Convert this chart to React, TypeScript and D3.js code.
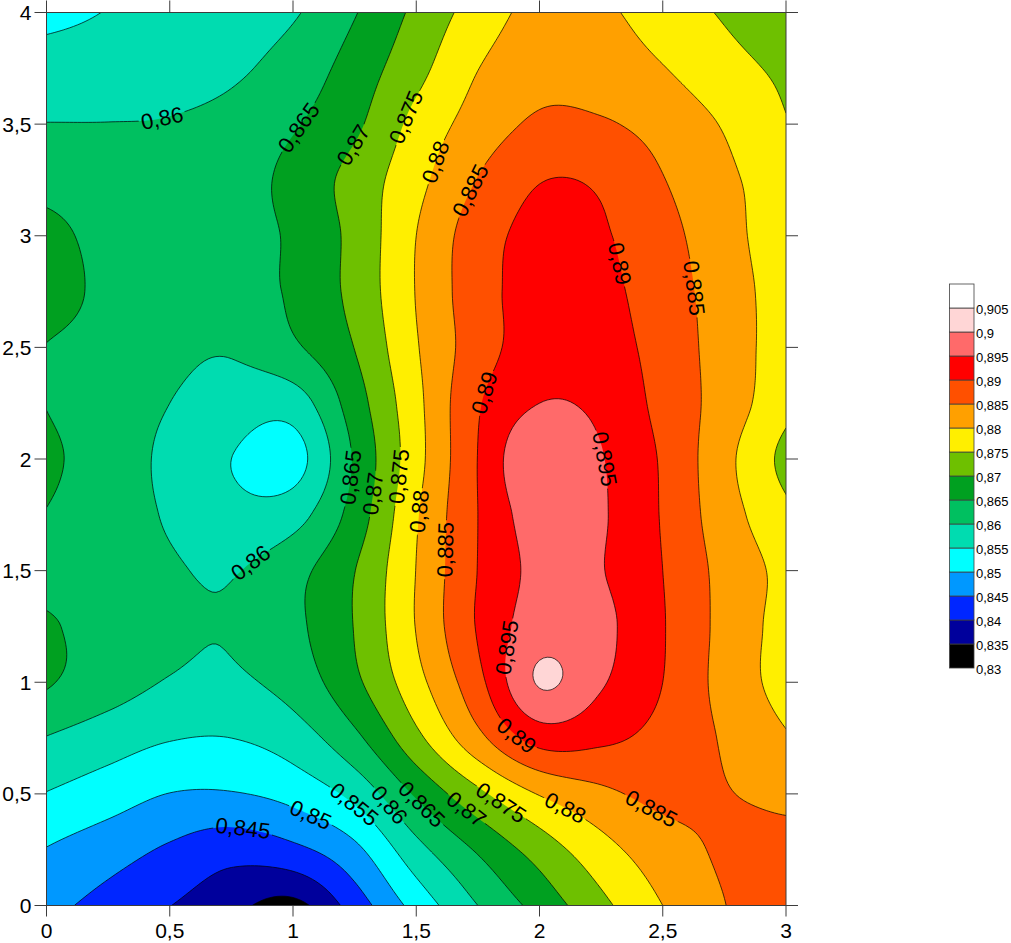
import * as d3 from "d3";
import { useMemo } from "react";

// grid nodes (x: 0..3, y: 0..4, step 0.25), rows listed from y = 0 upwards
const xNodes = [0, 0.25, 0.5, 0.75, 1, 1.25, 1.5, 1.75, 2, 2.25, 2.5, 2.75, 3];
const yNodes = [0, 0.25, 0.5, 0.75, 1, 1.25, 1.5, 1.75, 2, 2.25, 2.5, 2.75, 3, 3.25, 3.5, 3.75, 4];
const zGrid = [
	[0.8465, 0.8432, 0.8401, 0.8365, 0.8335, 0.8423, 0.8518, 0.86, 0.8668, 0.8737, 0.88, 0.8849, 0.8872],
	[0.8498, 0.8472, 0.8443, 0.8419, 0.8438, 0.8488, 0.8583, 0.8656, 0.8722, 0.8782, 0.8828, 0.8856, 0.8862],
	[0.8548, 0.8524, 0.8499, 0.8497, 0.8517, 0.8565, 0.8657, 0.8738, 0.8803, 0.8839, 0.8862, 0.8852, 0.884],
	[0.8598, 0.8574, 0.8553, 0.855, 0.8575, 0.8638, 0.8737, 0.8836, 0.892, 0.891, 0.8884, 0.8845, 0.8805],
	[0.8655, 0.8622, 0.8597, 0.8592, 0.862, 0.8689, 0.8783, 0.8885, 0.9004, 0.8955, 0.89, 0.8833, 0.878],
	[0.8657, 0.8628, 0.8608, 0.8603, 0.8638, 0.8702, 0.8802, 0.8904, 0.8975, 0.8962, 0.8903, 0.8835, 0.878],
	[0.863, 0.8625, 0.8605, 0.8597, 0.8633, 0.8699, 0.8801, 0.8901, 0.8962, 0.8952, 0.89, 0.8834, 0.8785],
	[0.8648, 0.8622, 0.8595, 0.8565, 0.858, 0.8671, 0.8795, 0.89, 0.8975, 0.8955, 0.8896, 0.8822, 0.8762],
	[0.866, 0.8625, 0.8589, 0.855, 0.853, 0.8656, 0.8782, 0.8901, 0.8998, 0.8953, 0.8894, 0.8815, 0.8735],
	[0.8649, 0.8625, 0.86, 0.8578, 0.8575, 0.8676, 0.8786, 0.8895, 0.895, 0.8938, 0.8885, 0.8828, 0.8765],
	[0.8649, 0.8635, 0.8612, 0.8605, 0.8642, 0.8701, 0.8796, 0.8876, 0.8925, 0.892, 0.8881, 0.8827, 0.8775],
	[0.8668, 0.864, 0.862, 0.8625, 0.8658, 0.8715, 0.8802, 0.8879, 0.892, 0.8912, 0.8875, 0.8825, 0.8775],
	[0.8665, 0.8635, 0.8625, 0.863, 0.8658, 0.8715, 0.88, 0.8876, 0.8915, 0.8905, 0.8867, 0.8818, 0.877],
	[0.8632, 0.8625, 0.862, 0.8625, 0.8666, 0.8718, 0.8785, 0.8852, 0.8898, 0.8893, 0.8852, 0.881, 0.8775],
	[0.8601, 0.8601, 0.8603, 0.8615, 0.8645, 0.869, 0.8765, 0.8821, 0.8858, 0.8855, 0.8832, 0.8796, 0.8753],
	[0.8572, 0.8574, 0.858, 0.8592, 0.862, 0.8671, 0.8734, 0.8799, 0.8832, 0.8825, 0.8802, 0.8767, 0.874],
	[0.8535, 0.8552, 0.857, 0.858, 0.8595, 0.8647, 0.8711, 0.8772, 0.8815, 0.8808, 0.8777, 0.8745, 0.872],
];

const levels = [0.83, 0.835, 0.84, 0.845, 0.85, 0.855, 0.86, 0.865, 0.87, 0.875, 0.88, 0.885, 0.89, 0.895, 0.9, 0.905];
const levelColors = [
	"#000000", "#00009c", "#0026ff", "#0098ff", "#00ffff", "#00dcb0", "#00c060", "#00a020",
	"#6ec000", "#ffef00", "#ffa000", "#ff5000", "#ff0000", "#ff6a6a", "#ffd6d6", "#ffffff",
];
const xTickValues = [0, 0.5, 1, 1.5, 2, 2.5, 3];
const yTickValues = [0, 0.5, 1, 1.5, 2, 2.5, 3, 3.5, 4];

// contour label anchors: [level, x, y]
const contourLabels: [number, number, number][] = [
	[0.86, 0.47, 3.53],
	[0.865, 1.02, 3.48],
	[0.87, 1.23, 3.42],
	[0.875, 1.465, 3.53],
	[0.88, 1.58, 3.33],
	[0.885, 1.73, 3.2],
	[0.89, 2.36, 2.88],
	[0.885, 2.63, 2.77],
	[0.89, 1.79, 2.29],
	[0.895, 2.26, 2.0],
	[0.865, 1.23, 1.92],
	[0.87, 1.33, 1.85],
	[0.875, 1.43, 1.92],
	[0.88, 1.52, 1.77],
	[0.885, 1.62, 1.6],
	[0.86, 0.84, 1.53],
	[0.895, 1.88, 1.15],
	[0.89, 1.935, 0.79],
	[0.885, 2.46, 0.44],
	[0.88, 2.09, 0.41],
	[0.875, 1.84, 0.45],
	[0.87, 1.7, 0.43],
	[0.865, 1.525, 0.46],
	[0.86, 1.39, 0.45],
	[0.855, 1.23, 0.44],
	[0.85, 1.07, 0.41],
	[0.845, 0.79, 0.34],
];

const fmt = (v: number) => String(+v.toFixed(3)).replace(".", ",");
const FONT = "'Liberation Sans', Arial, sans-serif";

const F = 16; // upsampling factor for the contouring grid

function node(i: number, j: number): number {
	const ni = xNodes.length;
	const nj = yNodes.length;
	if (i < 0) return 2 * node(0, j) - node(1, j);
	if (i >= ni) return 2 * node(ni - 1, j) - node(ni - 2, j);
	if (j < 0) return 2 * node(i, 0) - node(i, 1);
	if (j >= nj) return 2 * node(i, nj - 1) - node(i, nj - 2);
	return zGrid[j][i];
}

function catmull(p0: number, p1: number, p2: number, p3: number, t: number) {
	return (
		0.5 *
		(2 * p1 +
			(-p0 + p2) * t +
			(2 * p0 - 5 * p1 + 4 * p2 - p3) * t * t +
			(-p0 + 3 * p1 - 3 * p2 + p3) * t * t * t)
	);
}

function sample(u: number, v: number) {
	const i = Math.min(Math.floor(u), xNodes.length - 2);
	const j = Math.min(Math.floor(v), yNodes.length - 2);
	const tx = u - i;
	const ty = v - j;
	const rows = [-1, 0, 1, 2].map((dj) =>
		catmull(node(i - 1, j + dj), node(i, j + dj), node(i + 1, j + dj), node(i + 2, j + dj), tx),
	);
	return catmull(rows[0], rows[1], rows[2], rows[3], ty);
}

function textWidth(s: string, fs: number) {
	let w = 0;
	for (const ch of s) w += ch === "," ? 0.278 * fs : 0.556 * fs;
	return w;
}

export default function App() {
	const width = 1011;
	const height = 943;
	const left = 46.5;
	const right = 786;
	const top = 12.5;
	const bottom = 905.5;
	const fs = 22;
	const axisFs = 21;

	const xScale = d3.scaleLinear().domain([0, 3]).range([left, right]);
	const yScale = d3.scaleLinear().domain([0, 4]).range([bottom, top]);

	const { contours, nx, ny } = useMemo(() => {
		const nx = (xNodes.length - 1) * F + 1;
		const ny = (yNodes.length - 1) * F + 1;
		const values = new Array(nx * ny);
		for (let j = 0; j < ny; j++) {
			for (let i = 0; i < nx; i++) values[j * nx + i] = sample(i / F, j / F);
		}
		const contours = d3.contours().size([nx, ny]).thresholds(levels)(values);
		return { contours, nx, ny };
	}, []);

	const gx = d3.scaleLinear().domain([0.5, nx - 0.5]).range([xNodes[0], xNodes[xNodes.length - 1]]);
	const gy = d3.scaleLinear().domain([0.5, ny - 0.5]).range([yNodes[0], yNodes[yNodes.length - 1]]);
	const toPx = (p: number[]) => [xScale(gx(p[0])), yScale(gy(p[1]))];

	const path = d3.geoPath(
		d3.geoTransform({
			point(x: number, y: number) {
				// @ts-ignore
				this.stream.point(xScale(gx(x)), yScale(gy(y)));
			},
		}),
	);

	// place labels on the nearest point of their contour, aligned with it
	const labels = contourLabels.map(([val, lx, ly], idx) => {
		const k = levels.findIndex((l) => Math.abs(l - val) < 1e-9);
		const tx = xScale(lx);
		const ty = yScale(ly);
		let best = { d: Infinity, ring: [] as number[][], i: 0 };
		for (const poly of contours[k].coordinates) {
			for (const ring of poly) {
				const pts = ring.map(toPx);
				pts.forEach((p, i) => {
					const d = (p[0] - tx) ** 2 + (p[1] - ty) ** 2;
					if (d < best.d) best = { d, ring: pts, i };
				});
			}
		}
		const n = best.ring.length;
		const p = best.ring[best.i];
		const a = best.ring[(best.i - 5 + n) % n];
		const b = best.ring[(best.i + 5) % n];
		let ang = (Math.atan2(b[1] - a[1], b[0] - a[0]) * 180) / Math.PI;
		if (ang > 90) ang -= 180;
		if (ang <= -90) ang += 180;
		const text = fmt(val);
		return { key: idx, x: p[0], y: p[1], ang, text, w: textWidth(text, fs) };
	});

	const cbTop = 284;
	const cbBottom = 668;
	const cbY = d3
		.scaleLinear()
		.domain([levels[0], levels[levels.length - 1] + 0.005])
		.range([cbBottom, cbTop]);

	return (
		<svg
			width={width}
			height={height}
			style={{ position: "absolute", left: 0, top: 0, background: "#fff" }}
			fontFamily={FONT}
		>
			<defs>
				<clipPath id="plotClip">
					<rect x={left} y={top} width={right - left} height={bottom - top} />
				</clipPath>
				<mask id="labelMask" maskUnits="userSpaceOnUse" x={0} y={0} width={width} height={height}>
					<rect x={0} y={0} width={width} height={height} fill="#fff" />
					{labels.map((l) => (
						<rect
							key={l.key}
							x={-l.w / 2 - 2}
							y={-fs * 0.4}
							width={l.w + 4}
							height={fs * 0.8}
							fill="#000"
							transform={`translate(${l.x},${l.y}) rotate(${l.ang})`}
						/>
					))}
				</mask>
			</defs>

			<g clipPath="url(#plotClip)">
				{contours.map((c, k) => (
					<path key={`f${k}`} d={path(c) ?? ""} fill={levelColors[k]} stroke="none" />
				))}
				<g mask="url(#labelMask)">
					{contours.slice(1).map((c, k) => (
						<path key={`l${k}`} d={path(c) ?? ""} fill="none" stroke="#000" strokeWidth={0.7} />
					))}
				</g>
			</g>

			{labels.map((l) => (
				<text
					key={l.key}
					transform={`translate(${l.x},${l.y}) rotate(${l.ang})`}
					textAnchor="middle"
					dominantBaseline="central"
					fontSize={fs}
					fill="#000"
				>
					{l.text}
				</text>
			))}

			{/* frame */}
			<rect x={left} y={top} width={right - left} height={bottom - top} fill="none" stroke="#3c3c3c" strokeWidth={1} />

			{/* x ticks bottom + top */}
			{xTickValues.map((t) => (
				<g key={`x${t}`}>
					<line x1={xScale(t)} x2={xScale(t)} y1={bottom} y2={bottom + 11} stroke="#3c3c3c" />
					<line x1={xScale(t)} x2={xScale(t)} y1={top} y2={top - 12} stroke="#3c3c3c" />
					<text x={xScale(t)} y={938} textAnchor="middle" fontSize={axisFs} fill="#000">
						{fmt(t)}
					</text>
				</g>
			))}

			{/* y ticks left + right */}
			{yTickValues.map((t) => (
				<g key={`y${t}`}>
					<line x1={left - 12} x2={left} y1={yScale(t)} y2={yScale(t)} stroke="#3c3c3c" />
					<line x1={right} x2={right + 12} y1={yScale(t)} y2={yScale(t)} stroke="#3c3c3c" />
					<text
						x={left - 15}
						y={yScale(t)}
						textAnchor="end"
						dominantBaseline="central"
						fontSize={axisFs}
						fill="#000"
					>
						{fmt(t)}
					</text>
				</g>
			))}

			{/* colour scale */}
			<g>
				{levels.map((lv, k) => (
					<g key={`cb${k}`}>
						<rect
							x={949.5}
							y={cbY(lv + 0.005)}
							width={24.5}
							height={cbY(lv) - cbY(lv + 0.005)}
							fill={levelColors[k]}
							stroke="#404040"
							strokeWidth={0.8}
						/>
						<text x={976} y={cbY(lv) + 1} dominantBaseline="central" fontSize={13} fill="#000">
							{fmt(lv)}
						</text>
					</g>
				))}
			</g>
		</svg>
	);
}
